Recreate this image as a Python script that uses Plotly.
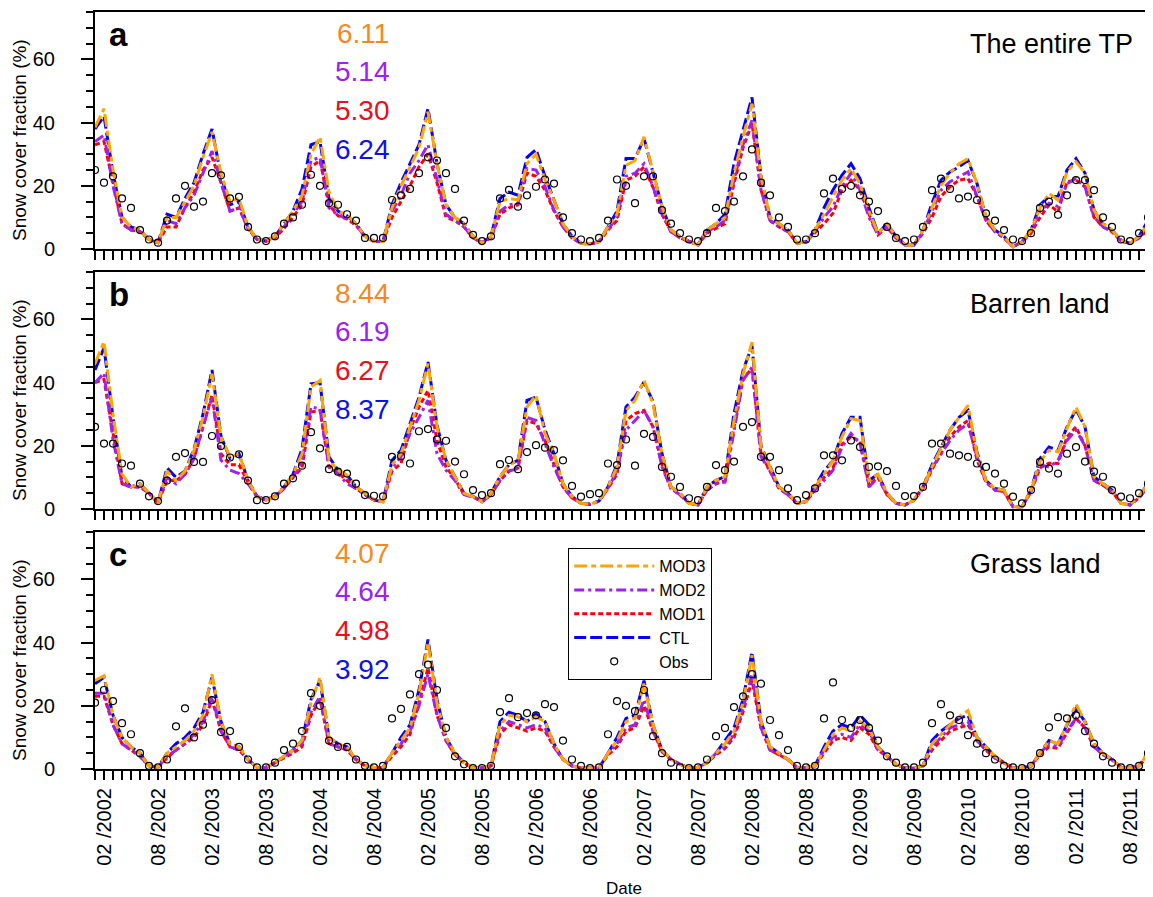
import plotly.graph_objects as go
from plotly.subplots import make_subplots

# ---------------- data ----------------
N_MONTHS = 120  # Jan 2002 ... Dec 2011 (monthly)
month_index = list(range(N_MONTHS))

tick_labels = ["02 /2002", "08 /2002", "02 /2003", "08 /2003", "02 /2004", "08 /2004",
               "02 /2005", "08 /2005", "02 /2006", "08 /2006", "02 /2007", "08 /2007",
               "02 /2008", "08 /2008", "02 /2009", "08 /2009", "02 /2010", "08 /2010",
               "02 /2011", "08 /2011"]
tick_positions = [i for i in month_index if i % 12 in (1, 7)]

series_names = ["MOD3", "MOD2", "MOD1", "CTL"]
panel_letters = ["a", "b", "c"]
panel_names = ["The entire TP", "Barren land", "Grass land"]
scores_a = [6.11, 5.14, 5.30, 6.24]
scores_b = [8.44, 6.19, 6.27, 8.37]
scores_c = [4.07, 4.64, 4.98, 3.92]

# ---- panel a : the entire TP ----
ctl_a = [38, 42, 24, 10, 7, 6, 3, 2, 11, 10, 16, 21,
         30, 38, 23, 14, 15, 7, 3, 2.5, 4, 8, 12, 19,
         33, 34, 16, 12, 10.5, 8, 4, 2.4, 2.4, 14, 21, 27,
         33, 44.5, 27, 14, 10, 8, 4, 2, 4, 16, 18, 17,
         29, 31.5, 23, 15.5, 8, 4, 1.8, 1.6, 2.3, 7, 12, 28.6,
         28.6, 35, 24, 13.4, 6, 4, 2.4, 1.3, 6, 8, 11, 27,
         37.6, 48, 23, 10, 8, 6, 1.8, 2.3, 6, 13, 18.7, 23.4,
         27, 22.3, 13, 5, 8, 4, 1.3, 1.3, 6, 14.5, 21.8, 24.4,
         26, 28, 20.7, 10, 6, 4, 0.7, 2.3, 6, 14, 16.6, 16.6,
         25, 28.6, 24, 12.3, 8, 6, 2.8, 1.8, 4, 9, 12, 15]
mod3_a = [38.5, 44.4, 25, 10, 7, 6, 3, 2, 10, 10, 15, 20,
          29, 37, 24, 15, 16, 7, 3, 2.5, 4, 8, 12, 17,
          30, 35.5, 18, 12, 10.7, 8, 4, 2.4, 2.4, 13, 20, 26,
          32, 43.4, 27, 14, 10, 8, 4, 2, 4, 15, 16, 15.5,
          27, 30, 22, 15.5, 8, 4, 1.8, 1.6, 2.3, 7, 11, 26.5,
          28, 35.5, 24, 13.4, 6, 4, 2.4, 1.3, 6, 8, 10, 24,
          35.5, 46, 23, 10, 8, 6, 1.8, 2.3, 6, 11, 16.6, 21.8,
          25.5, 20.7, 12, 5, 8, 4, 1.3, 1.3, 6, 13, 20.2, 24,
          27, 28.6, 20.7, 10, 6, 4, 0.7, 2.3, 6, 13, 17.6, 15.5,
          24.4, 27.6, 24, 12.3, 8, 6, 2.8, 1.8, 4, 8, 11, 14]
mod2_a = [34, 36, 20, 8, 6, 5.5, 3, 2, 9, 8, 13, 17,
          24, 31, 21, 12, 13, 6.5, 3, 2.5, 4, 7, 11, 15,
          28, 29, 13, 10.7, 9.7, 7.5, 4, 2.4, 2.4, 12, 17, 24,
          28, 33, 22, 11, 9, 7, 3.5, 2, 3.5, 12, 14, 14.5,
          25.5, 25, 19.7, 12.3, 7, 3.5, 1.8, 1.6, 2.3, 6, 10, 23,
          24, 27, 19.7, 11, 5.5, 3.5, 2.4, 1.3, 5.5, 7, 9, 21.8,
          33, 40.7, 18.7, 9, 7, 5.5, 1.8, 2.3, 5.5, 10, 13.4, 19.7,
          24, 18.7, 10, 4.5, 7, 3.5, 1.3, 1.3, 5.5, 12, 18.6, 21.3,
          22.9, 24.4, 16.6, 9, 5.5, 3.5, 0.7, 2.3, 5.5, 12, 14.5, 13.4,
          20.7, 22.3, 19.7, 10.2, 7, 5.5, 2.5, 1.8, 3.5, 7, 9, 13]
mod1_a = [33, 34, 21, 8, 6, 5.5, 3, 2, 7, 7, 13, 18,
          25, 29, 21, 12, 13, 6.5, 3, 2.5, 3.5, 6.5, 10, 14,
          26, 28, 14, 10.5, 9.5, 7.5, 4, 2.4, 2.4, 10, 15, 20,
          26, 30, 21, 10, 9, 7, 3.5, 2, 3.5, 11, 13, 14,
          24, 23, 18.6, 12, 7, 3.5, 1.8, 1.6, 2.3, 6, 9, 21.8,
          23, 26, 19.5, 11, 5.5, 3.5, 2.4, 1.3, 5, 6.5, 8, 20.7,
          32, 39.7, 18.7, 9, 7, 5.5, 1.8, 2.3, 5, 8, 11.3, 18.7,
          21.8, 18.7, 11, 4.5, 7, 3.5, 1.3, 1.3, 5, 10, 16.6, 19.7,
          21.8, 22.3, 16.6, 9, 5.5, 3.5, 0.7, 2.3, 5, 10, 14, 11.8,
          21.3, 21.8, 19.7, 10, 7, 5.5, 2.5, 1.8, 3.5, 6, 8, 12]
obs_a = [25, 21, 23, 16, 13, 6, 3, 2, 9, 16, 20, 13.4,
         15, 24, 23.3, 16, 16.5, 7, 3, 2.5, 4, 8, 10, 14,
         23.5, 20, 14.5, 14, 11, 9, 3.5, 3.5, 3.5, 15.5, 17, 19,
         24, 29, 28, 24, 19, 9, 4.5, 2.5, 4, 16, 18.7, 13.4,
         17, 19.7, 22, 20.7, 10, 5, 3, 2.5, 3.5, 9, 22, 20,
         14.5, 23, 23, 12.3, 8, 5, 3, 2.5, 5, 13, 12, 15,
         23, 31.5, 21, 17, 10, 7, 3, 3, 5, 17.6, 22.3, 19,
         20, 17, 15, 12, 7, 3.5, 2.5, 3, 7, 18.6, 22.3, 19,
         16, 16.6, 15.5, 11.3, 9, 6, 3, 2.5, 5, 13, 15, 10.8,
         17, 21.8, 21.8, 18.6, 10, 7, 3, 2.5, 5, 10, 13, 15]

# ---- panel b : barren land ----
ctl_b = [44, 51, 29, 10, 7, 8, 5, 2, 13, 10, 12, 19,
         30, 44, 23, 16, 17.5, 9, 4, 3, 4, 7, 11, 19,
         39.6, 40, 16.5, 12.3, 10.7, 7, 5, 2.8, 2.3, 15.4, 18.6, 27,
         35.4, 46.5, 26.5, 15.4, 10, 5, 4, 2.3, 5, 10.2, 14, 15.4,
         34.4, 35.4, 25, 17.5, 8, 4, 1.8, 1.5, 2.5, 7, 14, 32.3,
         35.4, 40.2, 34, 17.5, 7, 5, 1.8, 1.3, 7, 9.1, 10.2, 30.2,
         43.8, 51.7, 20, 13.3, 7, 5, 1.8, 2.3, 7, 12, 15.4, 23.9,
         29, 29, 9, 11, 5, 1.8, 1.3, 2.8, 7, 14, 19.6, 25,
         29, 31.2, 18, 9, 6.5, 6, 0.7, 0.7, 6, 16, 19.6, 18.6,
         26, 31.5, 26, 10.2, 8, 6, 1.8, 1.3, 3.9, 8, 14.3, 18]
mod3_b = [46, 53, 30, 11, 7, 8, 5, 2, 12, 9, 12, 18.6,
          29, 42.8, 22.8, 16.5, 17.5, 9, 3.9, 2.8, 3.9, 7, 11, 17.5,
          38.6, 40.7, 15.4, 12.3, 10.7, 7, 5, 2.8, 2.3, 14, 17.5, 26,
          34.4, 46, 26, 15.4, 10, 5, 3.9, 2.3, 5, 10.2, 14, 15.4,
          32.3, 36, 23.9, 17.5, 8, 4, 1.8, 1.5, 2.5, 7, 13.3, 31.2,
          34.4, 40.7, 33.3, 17.5, 7, 5, 1.8, 1.3, 7, 9.1, 10.2, 28,
          42.8, 52.8, 19.6, 13.3, 7, 5, 1.8, 2.3, 7, 11, 15.4, 22.8,
          28.6, 28, 9, 11, 5, 1.8, 1.3, 2.8, 7, 13.3, 19.1, 25,
          29, 32.8, 17.5, 9, 6.5, 6, 0.7, 0.7, 6, 15, 18.6, 18.1,
          25.5, 32.3, 26, 10.2, 8, 6, 1.8, 1.3, 3.9, 8, 14.3, 18]
mod2_b = [40, 43, 22, 8, 7, 7, 5, 2, 10, 8, 11, 16,
          26, 35.4, 15.4, 12.3, 11.2, 8, 3.9, 2.8, 3.9, 6.5, 10, 15,
          32.3, 31.7, 13.3, 11.2, 8, 6.5, 4.5, 2.8, 2.3, 13, 16.5, 23.9,
          29, 34.4, 17.5, 12.3, 9, 4.5, 3.9, 2.3, 4.5, 9, 12, 12.8,
          29, 28, 20.7, 13.3, 7, 3.5, 1.8, 1.5, 2.5, 6.5, 12, 25,
          28, 31.2, 26, 13.3, 6.5, 4.5, 1.8, 1.3, 6, 8, 8.5, 25,
          40.7, 44.9, 16.5, 12, 6.5, 4.5, 1.8, 2.3, 6, 9, 12.3, 19.6,
          23.9, 20.7, 7, 10, 4.5, 1.8, 1.3, 2.8, 6.5, 13, 17.5, 21.7,
          25, 27, 16.5, 8.5, 6, 5.5, 0.7, 0.7, 5.5, 14, 13.3, 15.4,
          21.7, 25, 20, 9, 7.5, 5.5, 1.8, 1.3, 3.5, 7, 12, 15]
mod1_b = [40, 41, 24, 8, 7, 7, 5, 2, 9, 9, 11, 16,
          26, 36, 17.5, 14, 14, 8.5, 3.9, 2.8, 3.9, 6.5, 10, 13,
          30.7, 31.2, 13.3, 11.5, 9, 6.5, 4.5, 2.8, 2.3, 12, 14.4, 25,
          32.3, 37.5, 21.7, 13.3, 9.5, 4.5, 3.9, 2.3, 4.5, 9, 12, 13,
          28, 27, 21.7, 14, 7, 3.5, 1.8, 1.5, 2.5, 6.5, 11, 28,
          30.2, 31.2, 26, 14, 6.5, 4.5, 1.8, 1.3, 6, 8, 9, 26,
          41.2, 44.4, 17.5, 12, 6.5, 4.5, 1.8, 2.3, 6, 10, 13, 20.5,
          22.8, 21.5, 7.5, 10, 4.5, 1.8, 1.3, 2.8, 6.5, 12.5, 17.5, 22.8,
          26, 28, 15.5, 8.5, 6, 5.5, 0.7, 0.7, 5.5, 13, 14.5, 14.4,
          22.8, 26, 20, 9, 7.5, 5.5, 1.8, 1.3, 3.5, 7, 12, 15]
obs_b = [26, 20.7, 20.7, 14.4, 13.7, 8, 4, 2.5, 9, 16.5, 17.7, 14.9,
         14.9, 23.1, 19.9, 16.3, 17.3, 9, 2.8, 2.8, 4, 8, 9.7, 13.7,
         24.3, 19.2, 12.6, 11.8, 11.2, 8, 4.4, 4.2, 4, 16.5, 16.7, 14.4,
         24.6, 25.3, 22, 21.6, 15, 11, 6, 4.4, 5, 14.2, 15.5, 12.6,
         18, 20.2, 19.4, 18.6, 15.4, 7.3, 3.9, 4.7, 5, 14.4, 13.9, 22,
         13.7, 23.8, 22.8, 13.3, 10.2, 7, 3.4, 2.8, 7, 13.9, 12.3, 15,
         26, 27.5, 16.5, 16.5, 12.3, 6.5, 2.8, 4.4, 6.5, 17, 17, 15.4,
         21.7, 19.6, 13.3, 13.5, 12, 7.3, 4.1, 4.1, 7, 20.7, 20.7, 17.5,
         17, 16.5, 14.4, 13.3, 11.2, 8, 3.9, 1.8, 6, 14.9, 12.8, 11.2,
         17.5, 19.6, 15, 11.8, 10.2, 6, 3.9, 3.4, 5, 8, 12, 16]

# ---- panel c : grass land ----
ctl_c = [27, 29, 17, 10, 7, 5, 1, 0.5, 5, 8, 10, 13,
         18, 29, 15, 8, 7, 3, 0.5, 0.5, 2, 4, 6, 9,
         22, 28, 10, 8, 7, 3, 1, 0.5, 0.5, 5, 10, 14,
         25, 41, 22, 10, 5, 2, 0.3, 0.3, 1, 15, 18, 17,
         15, 17.5, 15, 8, 3, 1, 0.3, 0.3, 0.3, 5, 10, 16,
         17, 28, 14, 6, 3, 1.5, 0.3, 0.5, 2, 5, 9, 13,
         22, 37, 15, 7, 5, 3, 0.5, 0.5, 1, 7, 12, 14,
         13, 17, 14, 7, 4, 1.5, 0.3, 0.3, 1, 9, 12, 14,
         16, 17, 10, 7, 4, 2, 0.3, 0.3, 1, 5, 9, 8,
         14, 19, 15, 8, 5, 3, 0.5, 0.3, 1, 5, 10, 12]
mod3_c = [28, 29.5, 17, 10, 7, 5, 1, 0.5, 5, 7, 9, 12,
          17, 30, 15, 8, 7, 3, 0.5, 0.5, 2, 4, 6, 9,
          21, 29, 10, 8, 7, 3, 1, 0.5, 0.5, 5, 9, 13,
          24, 40, 21, 10, 5, 2, 0.3, 0.3, 1, 14, 17, 16.5,
          15, 16.5, 15, 8, 3, 1, 0.3, 0.3, 0.3, 5, 9, 15,
          16, 27, 14, 6, 3, 1.5, 0.3, 0.5, 2, 5, 8, 12,
          21, 36, 15, 7, 5, 3, 0.5, 0.5, 1, 6, 11, 13,
          12, 15, 13, 7, 4, 1.5, 0.3, 0.3, 1, 8, 11, 14,
          16.5, 18.5, 10, 7, 4, 2, 0.3, 0.3, 1, 5, 9, 8,
          14, 20.5, 15, 8, 5, 3, 0.5, 0.3, 1, 5, 10, 12]
mod2_c = [24, 24, 14, 8, 6, 4, 1, 0.5, 4, 6, 8, 11,
          15, 23, 12, 7, 6, 3, 0.5, 0.5, 2, 4, 6, 8,
          18, 23, 8, 7, 6, 3, 1, 0.5, 0.5, 5, 8, 12,
          20, 30, 17, 9, 4.5, 2, 0.3, 0.3, 1, 12, 15, 14,
          13, 14, 13, 7, 3, 1, 0.3, 0.3, 0.3, 5, 8, 13,
          14, 22, 12, 5.5, 3, 1.5, 0.3, 0.5, 2, 5, 7, 11,
          19, 30, 13, 6, 4.5, 3, 0.5, 0.5, 1, 6, 10, 11,
          10, 14, 12, 6, 4, 1.5, 0.3, 0.3, 1, 7, 10, 13,
          14, 15, 9, 6, 3.5, 2, 0.3, 0.3, 1, 5, 8, 7,
          12, 16, 13, 7, 4.5, 3, 0.5, 0.3, 1, 4.5, 9, 11]
mod1_c = [23, 23, 14, 8, 6, 4, 1, 0.5, 3.5, 6, 8, 10,
          14, 22, 12, 7, 6, 3, 0.5, 0.5, 2, 3.5, 5, 7,
          17, 22, 8, 7, 6, 3, 1, 0.5, 0.5, 4, 7, 11,
          21, 32, 17, 9, 4.5, 2, 0.3, 0.3, 1, 11, 14, 13,
          12, 13, 12, 7, 3, 1, 0.3, 0.3, 0.3, 4.5, 7, 12,
          13, 20, 12, 5.5, 3, 1.5, 0.3, 0.5, 2, 4.5, 6.5, 10,
          18, 28, 13, 6, 4.5, 3, 0.5, 0.5, 1, 5, 9, 10,
          9, 13, 11, 6, 4, 1.5, 0.3, 0.3, 1, 6, 9, 12,
          13, 14, 9, 6, 3.5, 2, 0.3, 0.3, 1, 4.5, 7, 6.5,
          11.5, 16, 13, 7, 4.5, 3, 0.5, 0.3, 1, 4, 8, 10.5]
obs_c = [21, 25, 21.5, 14.5, 11, 5, 1, 0.5, 3, 13.5, 19.2, 10,
         14, 21.8, 11.7, 12, 7, 3, 0.5, 0.5, 2, 6, 8, 12,
         24, 20, 9, 7, 7, 3, 1, 0.5, 1, 16, 19, 23.6,
         30, 33, 25, 13, 4, 1.5, 0.3, 0.3, 1, 18, 22.4, 16.4,
         17.7, 17, 20.5, 19.6, 9, 3, 1, 0.3, 0.5, 11, 21.5, 20,
         18.3, 25, 10.4, 5, 2, 0.5, 0.3, 0.5, 3, 10.4, 13, 19.6,
         23, 30, 27, 15.5, 10.7, 6, 1, 0.5, 1, 16, 27.4, 15.5,
         13, 15.5, 13, 9, 4, 2, 0.5, 0.5, 2, 14.5, 20.5, 17,
         15.5, 10.7, 8, 5, 3, 1, 0.5, 0.3, 1, 5, 13.2, 16.4,
         16, 17, 12, 8, 4, 2, 0.5, 0.3, 1, 5, 11, 19]

panels = [
    dict(letter=panel_letters[0], name=panel_names[0], scores=scores_a,
         lines=[mod3_a, mod2_a, mod1_a, ctl_a], obs=obs_a),
    dict(letter=panel_letters[1], name=panel_names[1], scores=scores_b,
         lines=[mod3_b, mod2_b, mod1_b, ctl_b], obs=obs_b),
    dict(letter=panel_letters[2], name=panel_names[2], scores=scores_c,
         lines=[mod3_c, mod2_c, mod1_c, ctl_c], obs=obs_c),
]

# ---------------- styling ----------------
# The page body has an 8px margin, so the figure is sized to the window minus that offset.
OFF = 8
W, H = 1153 - OFF, 897 - OFF
M_L, M_R, M_T, M_B = 95 - OFF, 0, 12 - OFF, 128
PLOT_W = W - M_L - M_R
PLOT_H = H - M_T - M_B
GAP = 23

line_colors = {"MOD3": "#FFA500", "MOD2": "#A020F0", "MOD1": "#FF0000", "CTL": "#0000FF"}
text_colors = {"MOD3": "#F5891F", "MOD2": "#A020F0", "MOD1": "#E8101A", "CTL": "#1010E8"}
line_dash = {"MOD3": "13px,4px,5px,4px", "MOD2": "10px,4px,3px,4px",
             "MOD1": "5px,3px", "CTL": "12px,4px"}
legend_rank = {"MOD3": 1, "MOD2": 2, "MOD1": 3, "CTL": 4}
draw_order = ["CTL", "MOD1", "MOD2", "MOD3"]
FONT = "Liberation Sans, Arial, sans-serif"

fig = make_subplots(rows=3, cols=1, vertical_spacing=GAP / PLOT_H)

for r, p in enumerate(panels, start=1):
    series = dict(zip(series_names, p["lines"]))
    for name in draw_order:
        fig.add_trace(go.Scatter(
            x=month_index, y=series[name], mode="lines", name=name,
            line=dict(color=line_colors[name], width=3, dash=line_dash[name]),
            legendrank=legend_rank[name], showlegend=(r == 3)), row=r, col=1)
    fig.add_trace(go.Scatter(
        x=month_index, y=p["obs"], mode="markers", name="Obs",
        marker=dict(symbol="circle-open", size=7, color="black", line=dict(width=1.2)),
        legendrank=5, showlegend=(r == 3)), row=r, col=1)

    xa = "x" if r == 1 else f"x{r}"
    ya = "y" if r == 1 else f"y{r}"
    fig.add_annotation(text=f"<b>{p['letter']}</b>", xref=f"{xa} domain", yref=f"{ya} domain",
                       x=0.011, y=0.905, xanchor="left", yanchor="middle", showarrow=False,
                       font=dict(size=33, color="black", family=FONT))
    fig.add_annotation(text=p["name"], xref=f"{xa} domain", yref=f"{ya} domain",
                       x=0.825, y=0.865, xanchor="left", yanchor="middle", showarrow=False,
                       font=dict(size=27, color="black", family=FONT))
    for k, (sname, val) in enumerate(zip(series_names, p["scores"])):
        fig.add_annotation(text=f"{val:.2f}", xref=f"{xa} domain", yref=f"{ya} domain",
                           x=0.253, y=0.91 - 0.163 * k, xanchor="center", yanchor="middle",
                           showarrow=False,
                           font=dict(size=28, color=text_colors[sname], family=FONT))
    # y-axis title of each panel
    fig.add_annotation(text="Snow cover fraction (%)", xref="paper", yref=f"{ya} domain",
                       x=-(95 - 20) / PLOT_W, y=0.46, xanchor="center", yanchor="middle",
                       textangle=-90, showarrow=False,
                       font=dict(size=19, color="black", family=FONT))

    fig.update_xaxes(row=r, col=1, range=[0, PLOT_W / 9.0], showgrid=False, zeroline=False,
                     showline=True, linecolor="black", linewidth=2, mirror=True,
                     tickmode="array", tickvals=tick_positions,
                     ticktext=tick_labels if r == 3 else [""] * len(tick_labels),
                     showticklabels=(r == 3), tickangle=-90,
                     ticks="outside", ticklen=9, tickwidth=2, tickcolor="black",
                     tickfont=dict(size=20, color="black", family=FONT),
                     minor=dict(tickmode="linear", tick0=0, dtick=1, ticks="outside",
                                ticklen=9, tickwidth=2, tickcolor="black", showgrid=False))
    fig.update_yaxes(row=r, col=1, range=[0, 75], showgrid=False, zeroline=False,
                     showline=True, linecolor="black", linewidth=2, mirror=False,
                     tickmode="array", tickvals=[0, 20, 40, 60],
                     ticks="outside", ticklen=12, tickwidth=2, tickcolor="black",
                     ticklabelstandoff=22,
                     tickfont=dict(size=20, color="black", family=FONT),
                     minor=dict(tickmode="linear", tick0=0, dtick=5, ticks="outside",
                                ticklen=7, tickwidth=1.5, tickcolor="black", showgrid=False))

fig.add_annotation(text="Date", xref="paper", yref="paper",
                   x=(624 - 95) / PLOT_W, y=-(888 - 769) / PLOT_H,
                   xanchor="center", yanchor="middle", showarrow=False,
                   font=dict(size=17, color="black", family=FONT))

fig.update_layout(
    width=W, height=H,
    margin=dict(l=M_L, r=M_R, t=M_T, b=M_B, autoexpand=False),
    paper_bgcolor="white", plot_bgcolor="white",
    font=dict(family=FONT, color="black"),
    legend=dict(x=(568 - 95) / PLOT_W, y=(769 - 548) / PLOT_H,
                xanchor="left", yanchor="top", bgcolor="white",
                bordercolor="black", borderwidth=1.2, itemwidth=80,
                font=dict(size=16, color="black", family=FONT), tracegroupgap=0),
)

fig.write_html("out.html")
